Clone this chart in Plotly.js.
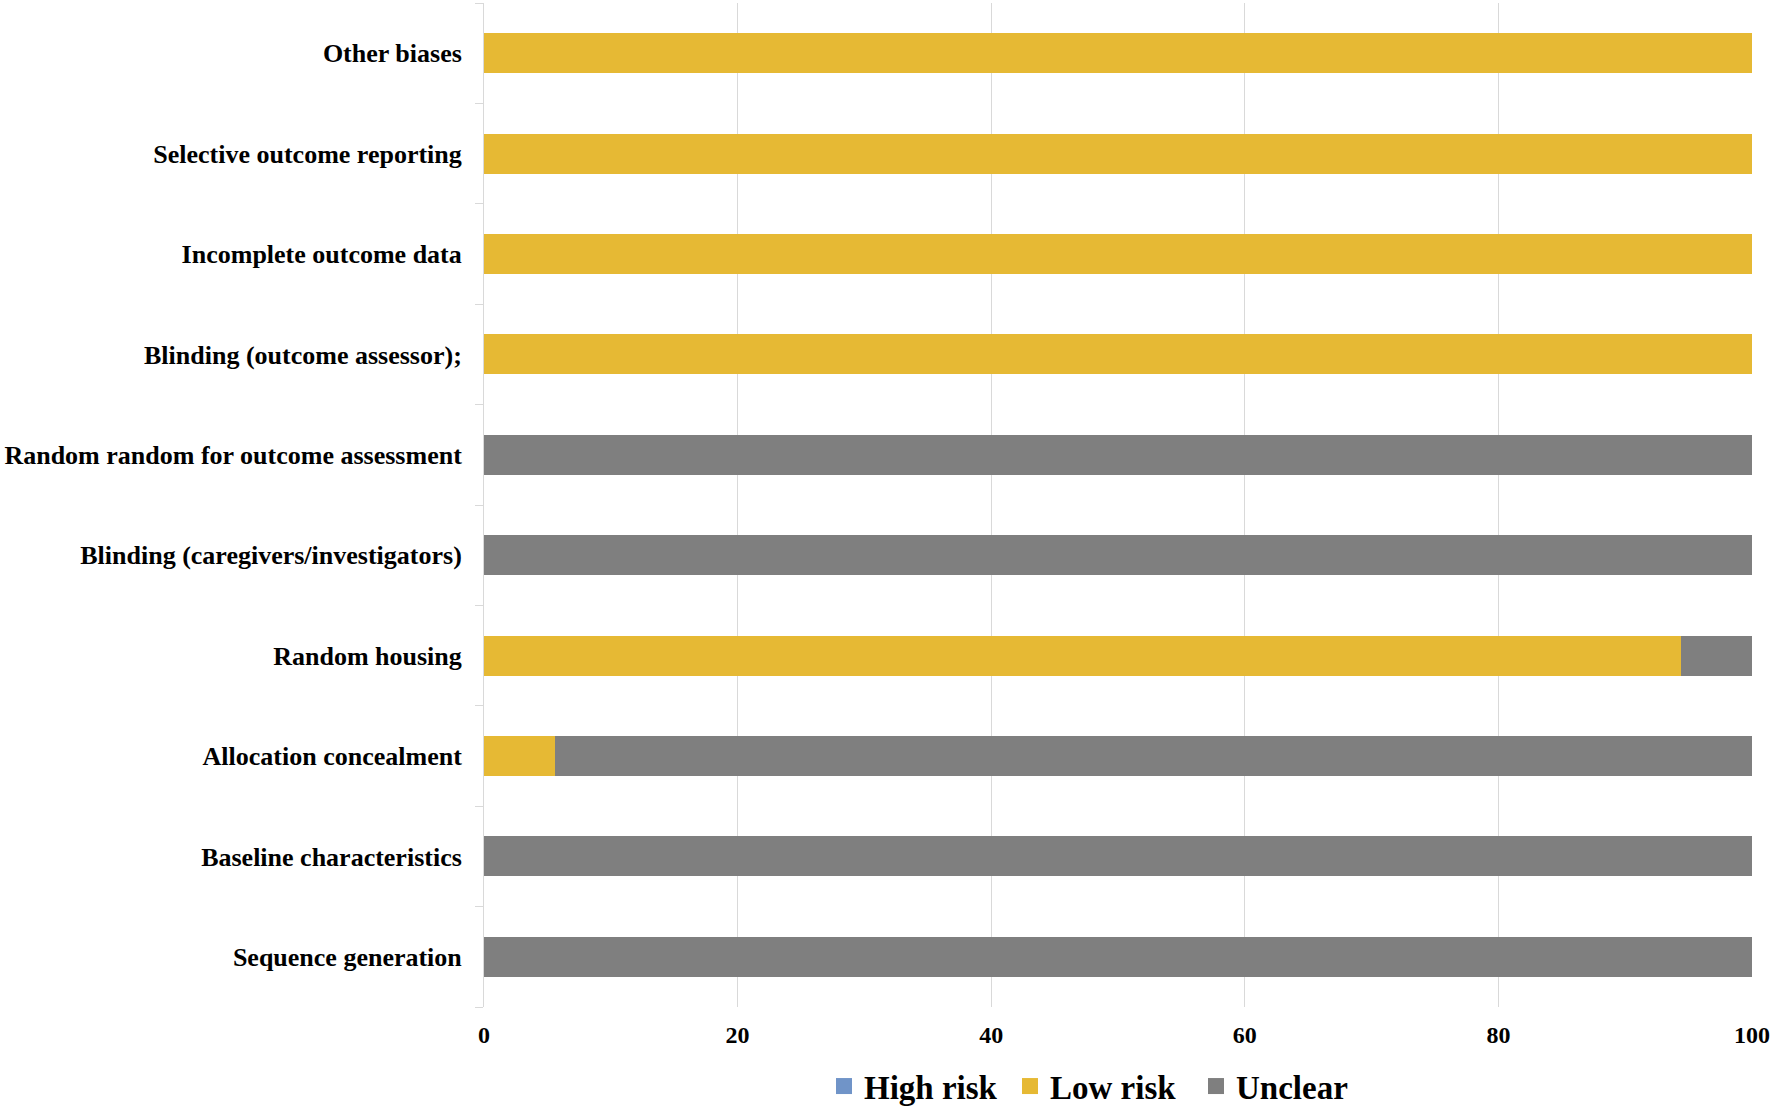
<!DOCTYPE html>
<html>
<head>
<meta charset="utf-8">
<script src="https://cdn.plot.ly/plotly-3.0.1.min.js"></script>
<style>html,body{margin:0;padding:0;background:#fff;}#chart{width:1772px;height:1106px;}</style>
</head>
<body>
<div id="chart"></div>
<script>
// Categories, bottom to top
const categories = [
  "Sequence generation",
  "Baseline characteristics",
  "Allocation concealment",
  "Random housing",
  "Blinding (caregivers/investigators)",
  "Random random for outcome assessment",
  "Blinding (outcome assessor);",
  "Incomplete outcome data",
  "Selective outcome reporting",
  "Other biases"
];
const highRisk = [0, 0, 0, 0, 0, 0, 0, 0, 0, 0];
const lowRisk  = [0, 0, 5.6, 94.4, 0, 0, 100, 100, 100, 100];
const unclear  = [100, 100, 94.4, 5.6, 100, 100, 0, 0, 0, 0];
const seriesNames = ["High risk", "Low risk", "Unclear"];
const xTicks = [0, 20, 40, 60, 80, 100];

const colors = ["#7094c8", "#e6b934", "#7f7f7f"];
const seriesValues = [highRisk, lowRisk, unclear];

const traces = [];
seriesValues.forEach((vals, i) => {
  traces.push({
    type: "bar",
    orientation: "h",
    name: seriesNames[i],
    x: vals,
    y: categories,
    marker: {color: colors[i], line: {width: 0}},
    showlegend: false,
    hoverinfo: "x+y+name"
  });
});
// legend proxies (square markers)
seriesNames.forEach((n, i) => {
  traces.push({
    type: "scatter",
    mode: "markers",
    name: n,
    x: [null],
    y: [null],
    marker: {symbol: "square", size: 16, color: colors[i]},
    showlegend: true,
    hoverinfo: "skip"
  });
});

const serif = "'Liberation Serif', 'Times New Roman', serif";

const layout = {
  width: 1772,
  height: 1106,
  margin: {l: 484, r: 20, t: 3, b: 99},
  paper_bgcolor: "#ffffff",
  plot_bgcolor: "#ffffff",
  barmode: "stack",
  bargap: 0.6,
  xaxis: {
    range: [0, 100],
    tickvals: xTicks,
    ticktext: xTicks.map(String),
    showgrid: true,
    gridcolor: "#d9d9d9",
    gridwidth: 1,
    zeroline: false,
    showline: false,
    ticks: "",
    ticklabelstandoff: 11,
    tickfont: {family: serif, size: 24, color: "#000", weight: "bold"},
    fixedrange: true
  },
  yaxis: {
    type: "category",
    categoryorder: "array",
    categoryarray: categories,
    showgrid: false,
    zeroline: false,
    showline: true,
    linecolor: "#d9d9d9",
    linewidth: 1,
    ticks: "outside",
    tickson: "boundaries",
    ticklen: 8,
    tickcolor: "#d9d9d9",
    tickwidth: 1,
    ticklabelstandoff: 16,
    tickfont: {family: serif, size: 26, color: "#000", weight: "bold"},
    fixedrange: true
  },
  legend: {
    orientation: "h",
    traceorder: "normal",
    xref: "container",
    yref: "container",
    x: 0.465,
    xanchor: "left",
    y: 0.018,
    yanchor: "middle",
    font: {family: serif, size: 33, color: "#000", weight: "bold"},
    itemwidth: 30,
    entrywidth: 141,
    entrywidthmode: "pixels",
    tracegroupgap: 0,
    bgcolor: "rgba(0,0,0,0)"
  },
  showlegend: true
};

Plotly.newPlot("chart", traces, layout, {displayModeBar: false, staticPlot: true});
</script>
</body>
</html>
